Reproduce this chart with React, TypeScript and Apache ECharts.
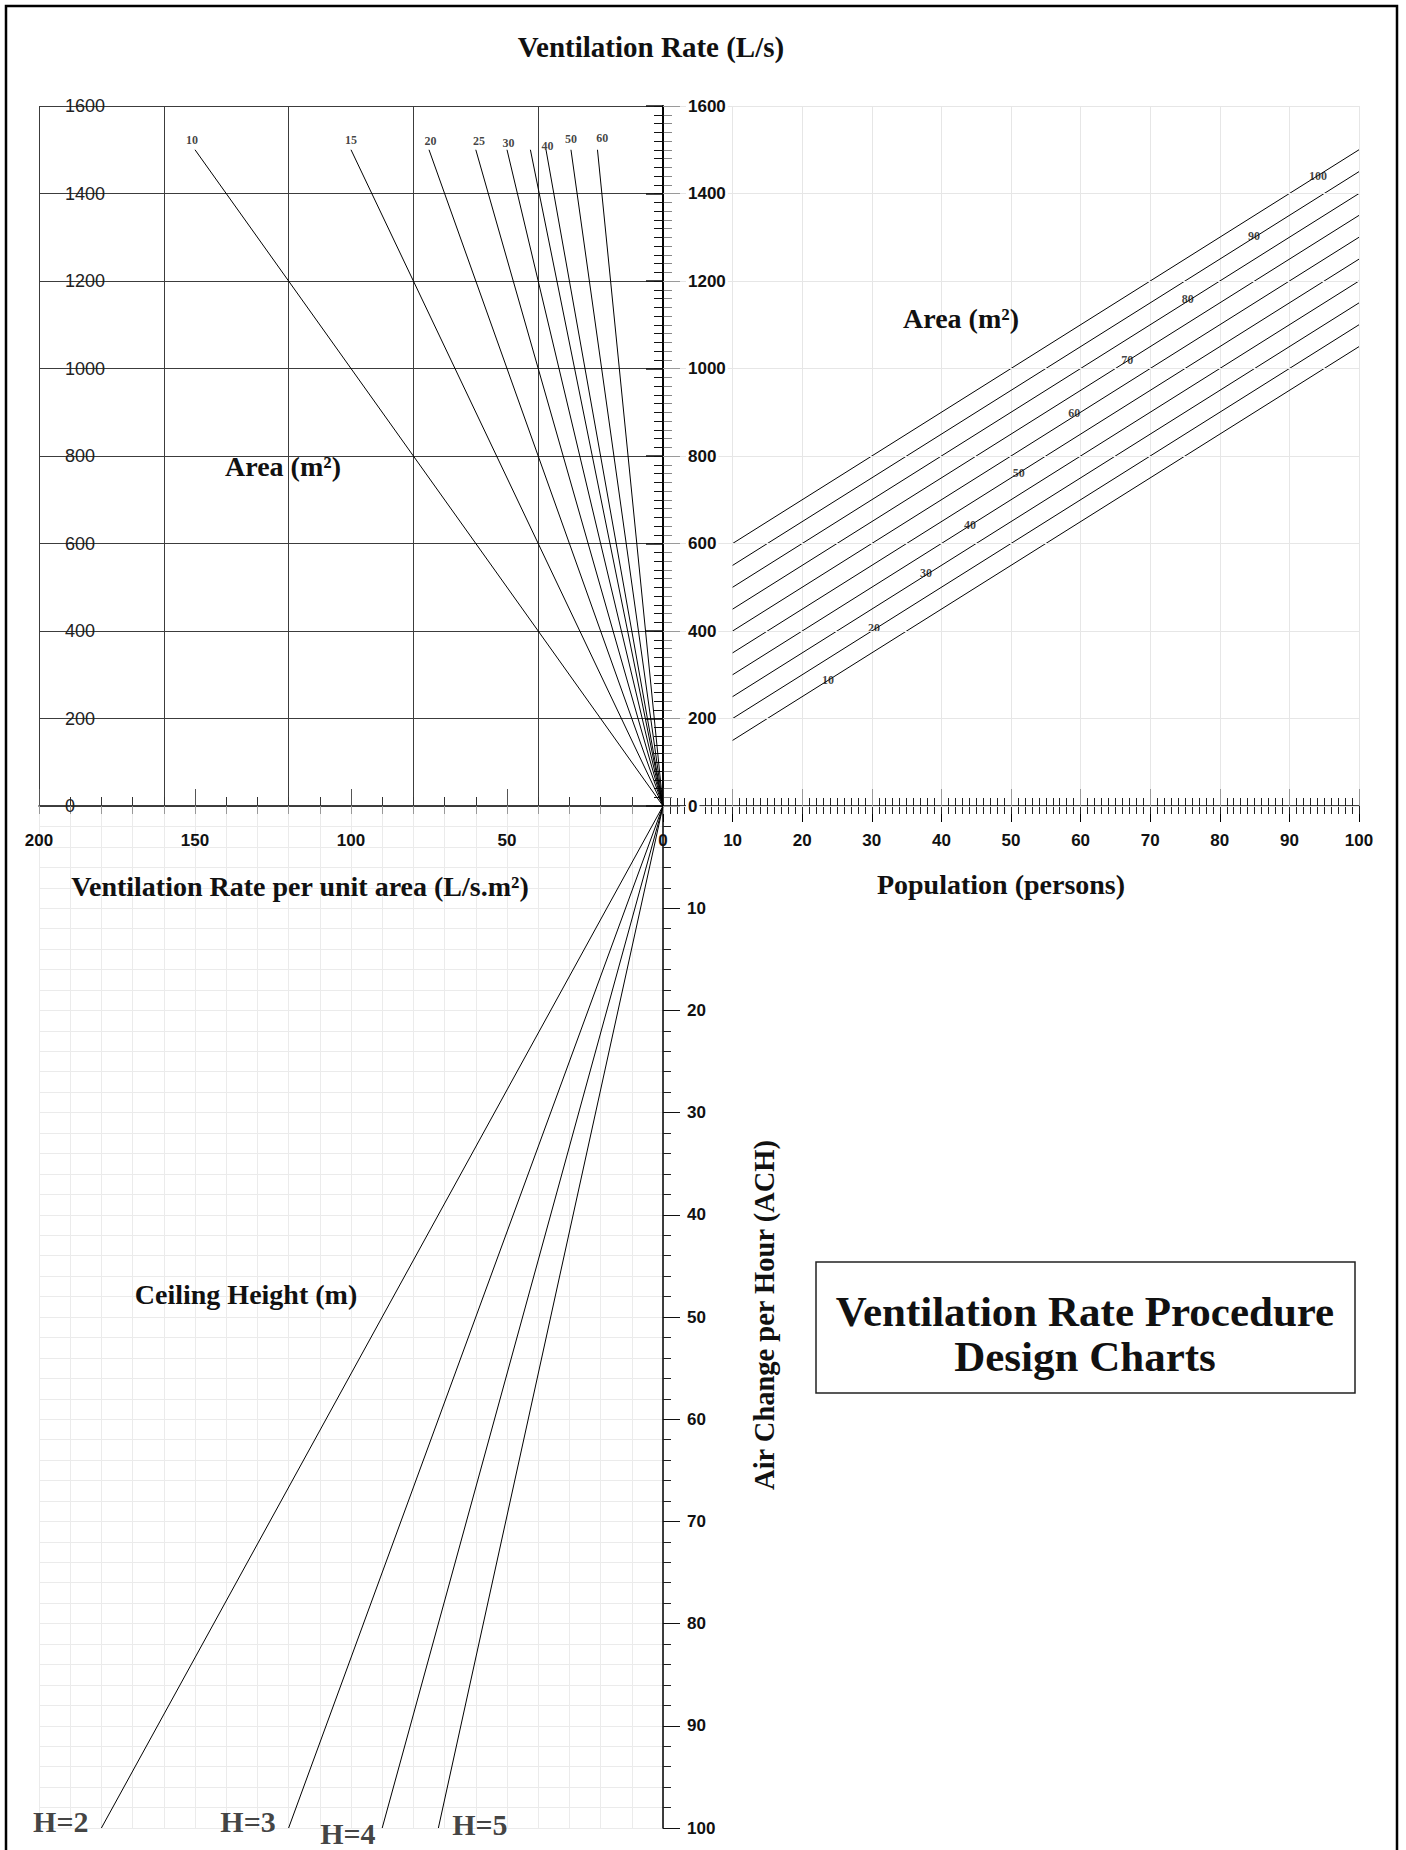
import React, { useEffect, useRef } from "react";
import * as echarts from "echarts";

const SERIF = '"Liberation Serif", "Times New Roman", serif';
const SANS = '"Liberation Sans", Arial, sans-serif';

// ---------- Axis ranges ----------
const rateMax = 200; // L/s.m2
const ventMax = 1600; // L/s
const popMax = 100; // persons
const achMax = 100; // ACH

// ---------- Top-left: ventilation rate vs rate per unit area, by area ----------
const areaQ2 = [10, 15, 20, 25, 30, 35, 40, 50, 60];
const areaQ2TopRate = [150, 100, 75, 60, 50, 42.5, 37.5, 29.5, 21];
const areaQ2TopVent = [1500, 1500, 1500, 1500, 1500, 1500, 1500, 1500, 1500];
const areaQ2LabelText = ["10", "15", "20", "25", "30", "40", "50", "60"];
const areaQ2LabelRate = [151, 100, 74.5, 59, 49.5, 37, 29.5, 19.5];
const areaQ2LabelVent = [1522, 1522, 1520, 1520, 1516, 1508, 1524, 1527];

// ---------- Top-right: ventilation rate vs population, by area ----------
const areaQ1 = [10, 20, 30, 40, 50, 60, 70, 80, 90, 100];
const popQ1Start = [10, 10, 10, 10, 10, 10, 10, 10, 10, 10];
const popQ1End = [100, 100, 100, 100, 100, 100, 100, 100, 100, 100];
const ventQ1Start = [150, 200, 250, 300, 350, 400, 450, 500, 550, 600];
const ventQ1End = [1050, 1100, 1150, 1200, 1250, 1300, 1350, 1400, 1450, 1500];
const areaQ1LabelPop = [23.7, 30.3, 37.8, 44.1, 51.1, 59.1, 66.7, 75.4, 84.9, 94.1];
const areaQ1LabelVent = [288, 407, 533, 642, 761, 898, 1019, 1159, 1303, 1440];

// ---------- Bottom-left: ACH vs rate per unit area, by ceiling height ----------
const ceilingHeights = ["H=2", "H=3", "H=4", "H=5"];
const heightEndRate = [180, 120, 90, 72];
const heightEndAch = [100, 100, 100, 100];
const heightLabelRate = [193, 133, 101, 58.7];
const heightLabelAch = [99.4, 99.4, 100.5, 99.7];

function valueAxis(extra: any) {
  return {
    type: "value",
    axisLine: { show: false },
    axisTick: { show: false },
    axisLabel: { show: false },
    splitLine: { show: false },
    ...extra,
  };
}

function txt(x: number, y: number, text: string, size: number, rotation = 0) {
  return {
    type: "text",
    z: 100,
    x,
    y,
    rotation,
    silent: true,
    style: {
      text,
      x: 0,
      y: 0,
      fill: "#111",
      font: `bold ${size}px ${SERIF}`,
      textAlign: "center",
      textVerticalAlign: "middle",
      align: "center",
      verticalAlign: "middle",
    },
  };
}

const plain = (v: number) => String(v);
const noZero = (v: number) => (v === 0 ? "" : String(v));

const tickLabelStyle = {
  show: true,
  fontFamily: SANS,
  fontWeight: "bold",
  fontSize: 17,
  color: "#111",
};

function buildOption() {
  const xAxis = [
    // 0: Q2 dark grid verticals
    valueAxis({
      gridIndex: 0, position: "bottom", inverse: true, min: 0, max: rateMax, interval: 40,
      splitLine: { show: true, lineStyle: { color: "#3c3c3c", width: 1 } },
    }),
    // 1: Q2 axis line + minor ticks
    valueAxis({
      gridIndex: 0, position: "bottom", inverse: true, min: 0, max: rateMax, interval: 10,
      axisLine: { show: true, lineStyle: { color: "#000", width: 1.5 } },
      axisTick: { show: true, inside: true, length: 9, lineStyle: { color: "#333", width: 1 } },
    }),
    // 2: Q2 major ticks + labels
    valueAxis({
      gridIndex: 0, position: "bottom", inverse: true, min: 0, max: rateMax, interval: 50,
      axisTick: { show: true, inside: true, length: 17, lineStyle: { color: "#555", width: 1 } },
      axisLabel: { ...tickLabelStyle, margin: 26, formatter: plain },
    }),
    // 3: Q1 axis line, major ticks, labels, grid
    valueAxis({
      gridIndex: 1, position: "bottom", min: 0, max: popMax, interval: 10,
      axisLine: { show: true, lineStyle: { color: "#000", width: 1.5 } },
      axisTick: { show: true, inside: false, length: 16, lineStyle: { color: "#000", width: 1 } },
      axisLabel: { ...tickLabelStyle, margin: 26, formatter: noZero },
      splitLine: { show: true, lineStyle: { color: "#e6e6e6", width: 1 } },
    }),
    // 4: Q1 minor ticks inside
    valueAxis({
      gridIndex: 1, position: "bottom", min: 0, max: popMax, interval: 1,
      axisTick: { show: true, inside: true, length: 8, lineStyle: { color: "#222", width: 1 } },
    }),
    // 5: Q1 minor ticks outside
    valueAxis({
      gridIndex: 1, position: "bottom", min: 0, max: popMax, interval: 1,
      axisTick: { show: true, inside: false, length: 8, lineStyle: { color: "#222", width: 1 } },
    }),
    // 6: Q1 major ticks inside (gray)
    valueAxis({
      gridIndex: 1, position: "bottom", min: 0, max: popMax, interval: 10,
      axisTick: { show: true, inside: true, length: 17, lineStyle: { color: "#999", width: 1 } },
    }),
    // 7: Q3 top axis: light grid + gray ticks
    valueAxis({
      gridIndex: 2, position: "top", inverse: true, min: 0, max: rateMax, interval: 10,
      axisTick: { show: true, inside: true, length: 8, lineStyle: { color: "#999", width: 1 } },
      splitLine: { show: true, lineStyle: { color: "#ebebeb", width: 1 } },
    }),
  ];

  const yAxis = [
    // 0: Q2 left axis with labels + dark grid horizontals
    valueAxis({
      gridIndex: 0, position: "left", min: 0, max: ventMax, interval: 200,
      axisLine: { show: true, lineStyle: { color: "#000", width: 1.5 } },
      axisLabel: { show: true, inside: true, margin: 26, fontFamily: SANS, fontSize: 18, color: "#222", formatter: plain },
      splitLine: { show: true, lineStyle: { color: "#3c3c3c", width: 1 } },
    }),
    // 1: Q2 left minor ticks
    valueAxis({
      gridIndex: 0, position: "left", min: 0, max: ventMax, interval: 20,
      axisTick: { show: true, inside: true, length: 8, lineStyle: { color: "#222", width: 1 } },
    }),
    // 2: Q2 right axis line + minor ticks
    valueAxis({
      gridIndex: 0, position: "right", min: 0, max: ventMax, interval: 20,
      axisLine: { show: true, lineStyle: { color: "#000", width: 1.5 } },
      axisTick: { show: true, inside: true, length: 9, lineStyle: { color: "#111", width: 1 } },
    }),
    // 3: Q2 right major ticks
    valueAxis({
      gridIndex: 0, position: "right", min: 0, max: ventMax, interval: 200,
      axisTick: { show: true, inside: true, length: 17, lineStyle: { color: "#111", width: 1.5 } },
    }),
    // 4: Q1 left minor ticks (gray)
    valueAxis({
      gridIndex: 1, position: "left", min: 0, max: ventMax, interval: 20,
      axisTick: { show: true, inside: true, length: 9, lineStyle: { color: "#888", width: 1 } },
    }),
    // 5: Q1 left axis with labels + light grid
    valueAxis({
      gridIndex: 1, position: "left", min: 0, max: ventMax, interval: 200, z: 10,
      axisLine: { show: true, lineStyle: { color: "#000", width: 1.5 } },
      axisTick: { show: true, inside: true, length: 17, lineStyle: { color: "#9a9a9a", width: 1 } },
      axisLabel: { ...tickLabelStyle, inside: true, margin: 23, backgroundColor: "#fff", padding: [1, 2], formatter: plain },
      splitLine: { show: true, lineStyle: { color: "#e6e6e6", width: 1 } },
    }),
    // 6: Q3 ACH axis line, minor ticks, light grid
    valueAxis({
      gridIndex: 2, position: "right", inverse: true, min: 0, max: achMax, interval: 2,
      axisLine: { show: true, lineStyle: { color: "#000", width: 1.5 } },
      axisTick: { show: true, inside: false, length: 8, lineStyle: { color: "#222", width: 1 } },
      splitLine: { show: true, lineStyle: { color: "#ebebeb", width: 1 } },
    }),
    // 7: Q3 ACH major ticks + labels
    valueAxis({
      gridIndex: 2, position: "right", inverse: true, min: 0, max: achMax, interval: 10,
      axisTick: { show: true, inside: false, length: 17, lineStyle: { color: "#111", width: 1 } },
      axisLabel: { ...tickLabelStyle, margin: 24, formatter: noZero },
    }),
  ];

  const lineBase = {
    type: "line",
    symbol: "none",
    silent: true,
    z: 3,
    lineStyle: { color: "#000", width: 1 },
  };
  const labelBase = {
    type: "scatter",
    symbolSize: 1,
    silent: true,
    clip: false,
    z: 6,
    itemStyle: { color: "rgba(0,0,0,0)" },
  };

  const series: any[] = [];

  areaQ2.forEach((a, i) => {
    series.push({
      ...lineBase,
      name: `Q2-${a}`,
      xAxisIndex: 1,
      yAxisIndex: 0,
      data: [
        [0, 0],
        [areaQ2TopRate[i], areaQ2TopVent[i]],
      ],
    });
  });
  series.push({
    ...labelBase,
    xAxisIndex: 1,
    yAxisIndex: 0,
    data: areaQ2LabelText.map((t, i) => ({ name: t, value: [areaQ2LabelRate[i], areaQ2LabelVent[i]] })),
    label: {
      show: true, position: "inside", formatter: "{b}",
      fontFamily: SERIF, fontWeight: "bold", fontSize: 12, color: "#111",
    },
  });

  areaQ1.forEach((a, i) => {
    series.push({
      ...lineBase,
      name: `Q1-${a}`,
      xAxisIndex: 3,
      yAxisIndex: 5,
      data: [
        [popQ1Start[i], ventQ1Start[i]],
        [popQ1End[i], ventQ1End[i]],
      ],
    });
  });
  series.push({
    ...labelBase,
    xAxisIndex: 3,
    yAxisIndex: 5,
    data: areaQ1.map((a, i) => ({ name: String(a), value: [areaQ1LabelPop[i], areaQ1LabelVent[i]] })),
    label: {
      show: true, position: "inside", formatter: "{b}",
      fontFamily: SERIF, fontWeight: "bold", fontSize: 12, color: "#111",
    },
  });

  ceilingHeights.forEach((h, i) => {
    series.push({
      ...lineBase,
      name: h,
      xAxisIndex: 7,
      yAxisIndex: 6,
      data: [
        [0, 0],
        [heightEndRate[i], heightEndAch[i]],
      ],
    });
  });
  series.push({
    ...labelBase,
    xAxisIndex: 7,
    yAxisIndex: 6,
    data: ceilingHeights.map((h, i) => ({ name: h, value: [heightLabelRate[i], heightLabelAch[i]] })),
    label: {
      show: true, position: "inside", formatter: "{b}",
      fontFamily: SERIF, fontWeight: "bold", fontSize: 30, color: "#111",
    },
  });

  const graphic = [
    {
      type: "rect", z: 100, silent: true,
      shape: { x: 6, y: 6, width: 1391, height: 1880 },
      style: { fill: "none", stroke: "#000", lineWidth: 2.5 },
    },
    {
      type: "rect", z: 99, silent: true,
      shape: { x: 816, y: 1262, width: 539, height: 131 },
      style: { fill: "#fff", stroke: "#222", lineWidth: 1.5 },
    },
    txt(651, 47, "Ventilation Rate (L/s)", 29),
    txt(283, 466, "Area (m²)", 28),
    txt(961, 318, "Area (m²)", 28),
    txt(300, 886, "Ventilation Rate per unit area (L/s.m²)", 28),
    txt(1001, 884, "Population (persons)", 28),
    txt(246, 1294, "Ceiling Height (m)", 28),
    txt(764, 1315, "Air Change per Hour (ACH)", 28.5, Math.PI / 2),
    txt(1085, 1311, "Ventilation Rate Procedure", 43),
    txt(1085, 1356, "Design Charts", 43),
  ];

  return {
    animation: false,
    backgroundColor: "#fff",
    grid: [
      { left: 39, top: 106, width: 624, height: 700 },
      { left: 663, top: 106, width: 696, height: 700 },
      { left: 39, top: 806, width: 624, height: 1022 },
    ],
    xAxis,
    yAxis,
    series,
    graphic,
  };
}

export default function App() {
  const ref = useRef<HTMLDivElement | null>(null);
  useEffect(() => {
    document.body.style.margin = "0";
    if (!ref.current) return;
    const chart = echarts.init(ref.current, null, { renderer: "svg" });
    chart.setOption(buildOption() as any);
    return () => {
      chart.dispose();
    };
  }, []);
  return (
    <div
      ref={ref}
      style={{ position: "absolute", left: 0, top: 0, width: 1406, height: 1850, background: "#fff" }}
    />
  );
}
